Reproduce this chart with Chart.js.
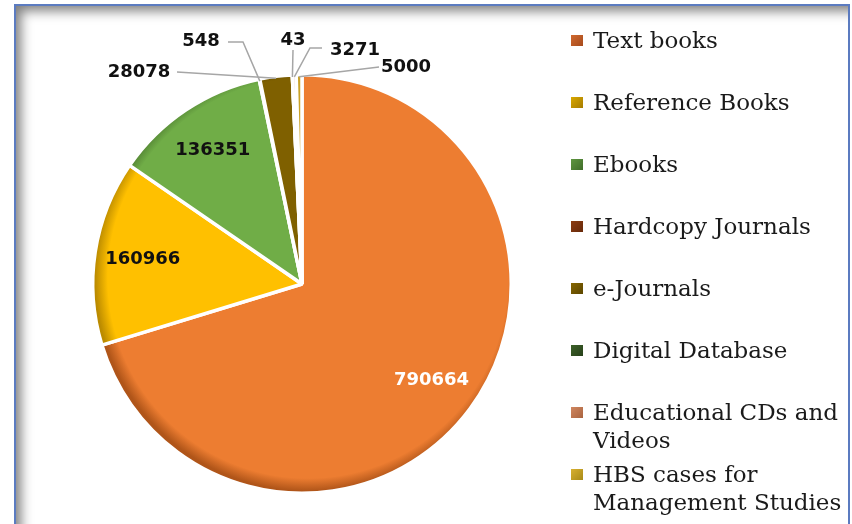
<!DOCTYPE html>
<html>
<head>
<meta charset="utf-8">
<script src="https://cdn.jsdelivr.net/npm/chart.js@4.4.1/dist/chart.umd.min.js"></script>
<style>
  html, body { margin: 0; padding: 0; background: #ffffff; }
  body { width: 852px; height: 524px; position: relative; overflow: hidden; }
  #frame {
    position: absolute; left: 14px; top: 4px; width: 832px; height: 540px;
    border: 2px solid #5b7bc0;
    box-shadow: inset 11px 11px 12px -6px rgba(0, 0, 0, 0.5);
    background: #ffffff;
  }
  #chart { position: absolute; left: 0; top: 0; }
  #legend {
    position: absolute; left: 571px; top: 26px;
    font-family: "DejaVu Serif", serif; font-size: 23px; color: #1a1a1a;
  }
  .item { position: relative; height: 62px; line-height: 28px; padding-left: 22px; white-space: nowrap; }
  .box { position: absolute; left: 0; top: 9px; width: 12px; height: 11px; }
</style>
</head>
<body>
<div id="frame"></div>
<canvas id="chart" width="852" height="524"></canvas>
<div id="legend"></div>
<script>
// Chart data
const categories = [
  'Text books', 'Reference Books', 'Ebooks', 'Hardcopy Journals',
  'e-Journals', 'Digital Database', 'Educational CDs and Videos',
  'HBS cases for Management Studies'
];
const legendLines = [
  ['Text books'], ['Reference Books'], ['Ebooks'], ['Hardcopy Journals'],
  ['e-Journals'], ['Digital Database'], ['Educational CDs and', 'Videos'],
  ['HBS cases for', 'Management Studies']
];
const counts = [790664, 160966, 136351, 548, 28078, 43, 3271, 5000];

// slice colours (flat) and their darker rim / legend shade
const sliceColors = ['#ed7d31', '#ffc000', '#70ad47', '#843c0c', '#7f6000', '#375623', '#d98a5c', '#c9a227'];
const rimColors   = ['#b05519', '#bb8b00', '#4d7c30', '#5a2808', '#4f3c00', '#223616', '#a5603a', '#907314'];
const boxColors   = [['#d0692f', '#a64a1c'], ['#d9a800', '#a67c00'], ['#5f9640', '#406d2a'], ['#8c3d12', '#66290a'],
                     ['#866600', '#5c4600'], ['#3d6129', '#27401a'], ['#d08660', '#a9643f'], ['#d8b030', '#a88a18']];

// label placement for the small slices, offsets from the pie centre (px)
const callouts = {
  3: { text: [-101, -243], line: [[-74, -242], [-59, -242]] },
  4: { text: [-163, -212], line: [[-125, -212]] },
  5: { text: [-9, -244],   line: [[-9, -234]] },
  6: { text: [53, -234],   line: [[20, -236], [8, -236]] },
  7: { text: [104, -217],  line: [[77, -217]] }
};

// legend (html text)
const legendEl = document.getElementById('legend');
legendLines.forEach((lines, i) => {
  const item = document.createElement('div');
  item.className = 'item';
  const box = document.createElement('span');
  box.className = 'box';
  box.style.background = 'linear-gradient(135deg, ' + boxColors[i][0] + ', ' + boxColors[i][1] + ')';
  item.appendChild(box);
  item.appendChild(document.createTextNode(lines[0]));
  for (let k = 1; k < lines.length; k++) {
    item.appendChild(document.createElement('br'));
    item.appendChild(document.createTextNode(lines[k]));
  }
  legendEl.appendChild(item);
});

// shaded rim like the office 3d pie, light coming from the top right
function sliceFill(context) {
  const chart = context.chart;
  const area = chart.chartArea;
  const i = context.dataIndex;
  if (!area) return sliceColors[i];
  const cx = (area.left + area.right) / 2;
  const cy = (area.top + area.bottom) / 2;
  const r = Math.min(area.width, area.height) / 2;
  const g = chart.ctx.createRadialGradient(cx + 6, cy - 6, 0, cx + 6, cy - 6, r + 2);
  g.addColorStop(0, sliceColors[i]);
  g.addColorStop(0.94, sliceColors[i]);
  g.addColorStop(1, rimColors[i]);
  return g;
}

const valueLabels = {
  id: 'valueLabels',
  afterDatasetsDraw(chart) {
    const c = chart.ctx;
    const meta = chart.getDatasetMeta(0);
    c.save();
    c.font = 'bold 18px "DejaVu Sans", sans-serif';
    c.textAlign = 'center';
    c.textBaseline = 'middle';
    meta.data.forEach((arc, i) => {
      const p = arc.getProps(['x', 'y', 'startAngle', 'endAngle', 'outerRadius'], true);
      const mid = (p.startAngle + p.endAngle) / 2;
      const text = String(counts[i]);
      const co = callouts[i];
      if (!co) {
        const d = p.outerRadius * 0.77;
        c.fillStyle = i === 0 ? '#ffffff' : '#111111';
        c.fillText(text, p.x + Math.cos(mid) * d, p.y + Math.sin(mid) * d);
        return;
      }
      // leader line from label to slice edge
      c.strokeStyle = '#a6a6a6';
      c.lineWidth = 1.5;
      c.beginPath();
      co.line.forEach((pt, k) => {
        if (k === 0) c.moveTo(p.x + pt[0], p.y + pt[1]);
        else c.lineTo(p.x + pt[0], p.y + pt[1]);
      });
      c.lineTo(p.x + Math.cos(mid) * (p.outerRadius - 2), p.y + Math.sin(mid) * (p.outerRadius - 2));
      c.stroke();
      c.fillStyle = '#111111';
      c.fillText(text, p.x + co.text[0], p.y + co.text[1]);
    });
    c.restore();
  }
};

const ctx = document.getElementById('chart').getContext('2d');
new Chart(ctx, {
  type: 'pie',
  data: {
    labels: categories,
    datasets: [{
      data: counts,
      backgroundColor: sliceFill,
      borderColor: '#ffffff',
      borderWidth: 3.5
    }]
  },
  options: {
    responsive: false,
    animation: false,
    layout: { padding: { left: 91, top: 73, right: 339, bottom: 29 } },
    plugins: {
      legend: { display: false },
      tooltip: { enabled: false }
    }
  },
  plugins: [valueLabels]
});
</script>
</body>
</html>
